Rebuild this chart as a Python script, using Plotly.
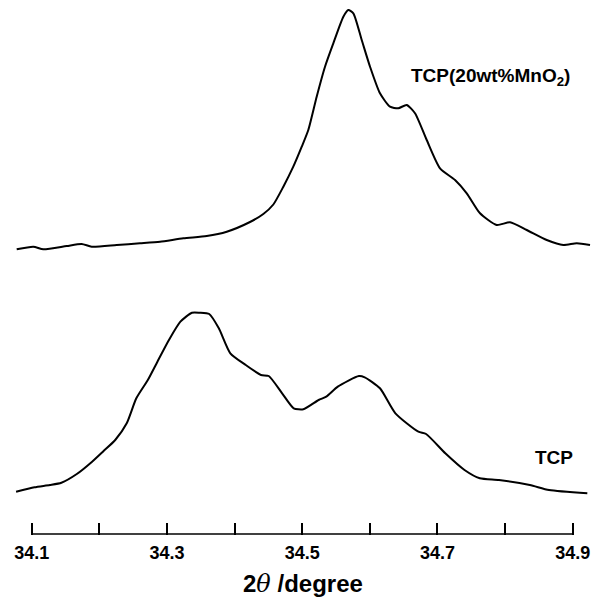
import plotly.graph_objects as go

# 2theta (degree) and relative intensity (arbitrary units)
two_theta_mno2 = [34.0778, 34.1024, 34.1172, 34.1518, 34.1739, 34.1887, 34.2257, 34.2601,
                  34.2897, 34.3242, 34.3588, 34.3884, 34.4228, 34.4425, 34.4573, 34.4721,
                  34.4868, 34.4993, 34.5090, 34.5214, 34.5337, 34.5460, 34.5608, 34.5682,
                  34.5756, 34.5880, 34.6003, 34.6150, 34.6298, 34.6421, 34.6545, 34.6668,
                  34.6841, 34.7038, 34.7260, 34.7433, 34.7629, 34.7876, 34.8073, 34.8320,
                  34.8616, 34.8861, 34.9059, 34.9256]
intensity_mno2 = [284.7, 287.3, 284.7, 288, 290, 287.3, 289, 290.7,
                  292.3, 295.7, 298, 302.3, 312, 320, 329.5, 347.3,
                  367.3, 387.3, 404, 437.3, 467.3, 490.7, 517.3, 524,
                  520.7, 494, 467.3, 440.7, 427.3, 425.7, 429, 420.7,
                  394, 365.7, 354, 340.7, 320.7, 309, 311.7, 304,
                  294, 289, 290.7, 289]

two_theta_tcp = [34.0769, 34.1041, 34.1269, 34.1439, 34.1667, 34.1893, 34.2063, 34.2235,
                 34.2405, 34.2547, 34.2717, 34.2859, 34.3029, 34.3199, 34.3369, 34.3483,
                 34.3625, 34.3767, 34.3937, 34.4165, 34.4391, 34.4505, 34.4703, 34.4874,
                 34.5016, 34.5243, 34.5356, 34.5526, 34.5838, 34.5924, 34.6150, 34.6378,
                 34.6718, 34.6832, 34.7116, 34.7400, 34.7626, 34.7910, 34.8366, 34.8650,
                 34.9216]
intensity_tcp = [42.3, 46.7, 49, 51.3, 60, 72.3, 83, 94,
                 110.7, 135.7, 154, 172.3, 194, 212.3, 221.3, 221.3,
                 220, 205.7, 180.7, 169, 159, 158, 140.7, 125.7,
                 124.7, 134, 137.3, 147.3, 158, 156.7, 145.7, 120.7,
                 102.3, 100, 80.7, 64, 55.7, 54, 49, 44,
                 40.7]

major_ticks = [34.1, 34.3, 34.5, 34.7, 34.9]
major_labels = ["34.1", "34.3", "34.5", "34.7", "34.9"]
minor_ticks = [34.2, 34.4, 34.6, 34.8]

FONT = "Liberation Sans, Arial, Helvetica, sans-serif"

fig = go.Figure()
fig.add_trace(go.Scatter(x=two_theta_mno2, y=intensity_mno2, mode="lines",
                         line=dict(color="black", width=2, shape="spline", smoothing=0.6),
                         showlegend=False, hoverinfo="skip"))
fig.add_trace(go.Scatter(x=two_theta_tcp, y=intensity_tcp, mode="lines",
                         line=dict(color="black", width=2, shape="spline", smoothing=0.6),
                         showlegend=False, hoverinfo="skip"))

# baseline of the axis, only from first to last tick
fig.add_shape(type="line", xref="x", yref="y", x0=major_ticks[0], x1=major_ticks[-1],
              y0=0, y1=0, line=dict(color="black", width=1.5))

fig.add_annotation(x=34.779, y=457, xref="x", yref="y", showarrow=False,
                   text="<b>TCP(20wt%MnO<sub>2</sub>)</b>",
                   font=dict(family=FONT, size=19, color="black"))
fig.add_annotation(x=34.872, y=77, xref="x", yref="y", showarrow=False,
                   text="<b>TCP</b>",
                   font=dict(family=FONT, size=19, color="black"))
fig.add_annotation(x=0.4958, y=-0.093, xref="paper", yref="paper",
                   xanchor="center", yanchor="middle", showarrow=False,
                   text="<b>2</b><span style='font-family:DejaVu Serif;font-weight:normal'><i>θ</i></span><b> /degree</b>",
                   font=dict(family=FONT, size=24, color="black"))

fig.update_layout(
    width=594, height=593,
    margin=dict(l=0, r=0, t=0, b=66),
    paper_bgcolor="white", plot_bgcolor="white",
    xaxis=dict(range=[34.06495, 34.9433], showgrid=False, zeroline=False, showline=False,
               tickmode="array", tickvals=major_ticks, ticktext=major_labels,
               ticks="inside", ticklen=12, tickwidth=1.5, tickcolor="black",
               tickfont=dict(family=FONT, size=18, color="black", weight="bold"),
               ticklabelstandoff=5,
               minor=dict(tickmode="array", tickvals=minor_ticks, ticks="inside",
                          ticklen=12, tickwidth=1.5, tickcolor="black", showgrid=False)),
    yaxis=dict(range=[-1, 526], visible=False),
)

fig.write_html("out.html")
